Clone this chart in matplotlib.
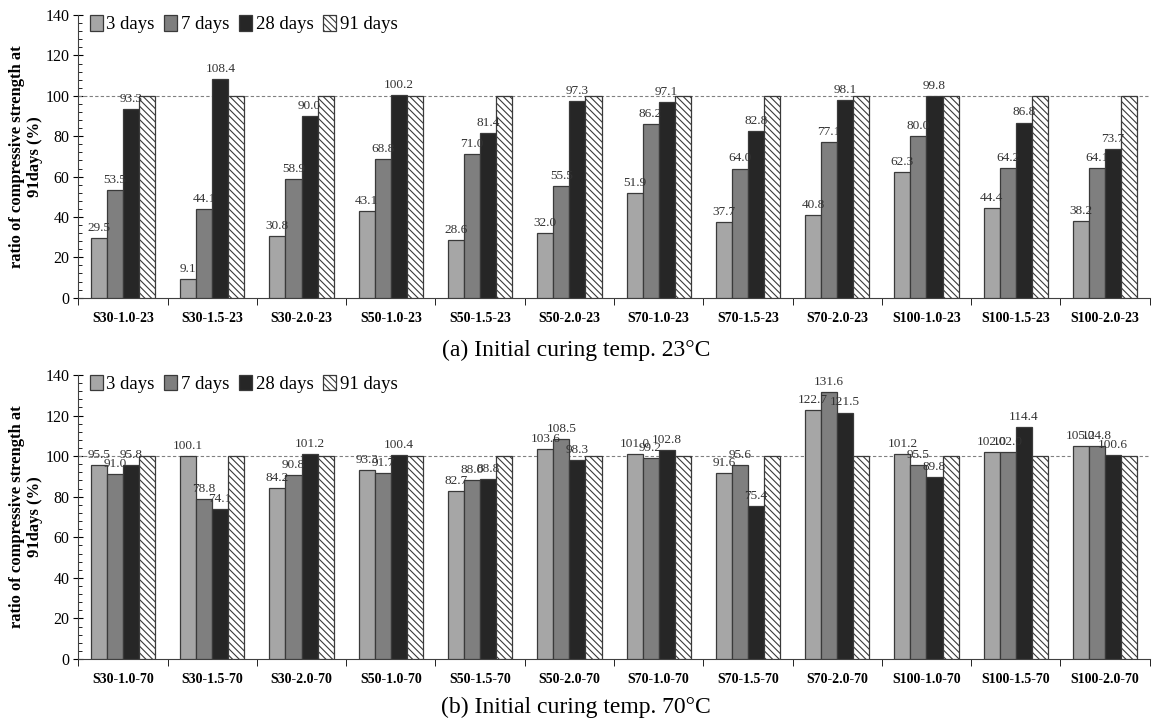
import matplotlib
matplotlib.use('Agg')
import matplotlib.pyplot as plt
from matplotlib.ticker import MultipleLocator, FixedLocator, NullFormatter
import numpy as np

plt.rcParams['font.family'] = ['Liberation Serif', 'DejaVu Serif']
plt.rcParams['hatch.color'] = '#303030'
plt.rcParams['hatch.linewidth'] = 0.8

series_names = ['3 days', '7 days', '28 days', '91 days']

cat23 = ['S30-1.0-23', 'S30-1.5-23', 'S30-2.0-23', 'S50-1.0-23', 'S50-1.5-23', 'S50-2.0-23',
         'S70-1.0-23', 'S70-1.5-23', 'S70-2.0-23', 'S100-1.0-23', 'S100-1.5-23', 'S100-2.0-23']
d3_23 = [29.5, 9.1, 30.8, 43.1, 28.6, 32.0, 51.9, 37.7, 40.8, 62.3, 44.4, 38.2]
d7_23 = [53.5, 44.1, 58.9, 68.8, 71.0, 55.5, 86.2, 64.0, 77.1, 80.0, 64.2, 64.1]
d28_23 = [93.3, 108.4, 90.0, 100.2, 81.4, 97.3, 97.1, 82.8, 98.1, 99.8, 86.8, 73.7]
d91_23 = [100.0] * 12

cat70 = ['S30-1.0-70', 'S30-1.5-70', 'S30-2.0-70', 'S50-1.0-70', 'S50-1.5-70', 'S50-2.0-70',
         'S70-1.0-70', 'S70-1.5-70', 'S70-2.0-70', 'S100-1.0-70', 'S100-1.5-70', 'S100-2.0-70']
d3_70 = [95.5, 100.1, 84.2, 93.3, 82.7, 103.6, 101.0, 91.6, 122.7, 101.2, 102.0, 105.2]
d7_70 = [91.0, 78.8, 90.8, 91.7, 88.0, 108.5, 99.2, 95.6, 131.6, 95.5, 102.0, 104.8]
d28_70 = [95.8, 74.1, 101.2, 100.4, 88.8, 98.3, 102.8, 75.4, 121.5, 89.8, 114.4, 100.6]
d91_70 = [100.0] * 12

colors = ['#a6a6a6', '#7f7f7f', '#262626', 'white']
hatches = [None, None, None, '\\\\\\\\\\']

fig = plt.figure(figsize=(11.52, 7.2), dpi=100)
ax1 = fig.add_axes([0.068, 0.5865, 0.93, 0.3925])
ax2 = fig.add_axes([0.068, 0.0847, 0.93, 0.3945])


def draw_panel(ax, cats, data):
    x = np.arange(len(cats))
    w = 0.18
    for i, vals in enumerate(data):
        pos = x + (i - 1.5) * w
        ax.bar(pos, vals, w, color=colors[i], edgecolor='#3a3a3a', linewidth=0.9,
               hatch=hatches[i], label=series_names[i], zorder=3)
        if i < 3:
            for p, v in zip(pos, vals):
                ax.text(p, v + 2, '%.1f' % v, ha='center', va='bottom',
                        fontsize=9.5, color='#333333', zorder=4)
    ax.axhline(100, color='#808080', ls=(0, (3, 2)), lw=0.8, zorder=2)
    ax.set_xlim(-0.5, len(cats) - 0.5)
    ax.set_ylim(0, 140)
    ax.yaxis.set_major_locator(MultipleLocator(20))
    ax.yaxis.set_minor_locator(MultipleLocator(4))
    ax.tick_params(axis='y', which='major', direction='inout', length=7, labelsize=11.5, pad=3)
    ax.tick_params(axis='y', which='minor', direction='in', length=3)
    ax.set_xticks(x)
    ax.set_xticklabels(cats, fontsize=10, fontweight='bold')
    ax.tick_params(axis='x', which='major', length=0, pad=10)
    ax.xaxis.set_minor_locator(FixedLocator(np.arange(len(cats) + 1) - 0.5))
    ax.xaxis.set_minor_formatter(NullFormatter())
    ax.tick_params(axis='x', which='minor', direction='out', length=5)
    for s in ['top', 'right']:
        ax.spines[s].set_visible(False)
    for s in ['left', 'bottom']:
        ax.spines[s].set_color('#404040')
    ax.set_ylabel('ratio of compressive strength at\n91days (%)', fontsize=12,
                  fontweight='bold')
    ax.yaxis.set_label_coords(-0.033, 0.5)
    ax.legend(loc='upper left', ncol=4, frameon=False, fontsize=13.5,
              handlelength=0.7, handleheight=0.9, handletextpad=0.2,
              columnspacing=0.5, bbox_to_anchor=(0.0, 1.04), borderaxespad=0.2)


draw_panel(ax1, cat23, [d3_23, d7_23, d28_23, d91_23])
draw_panel(ax2, cat70, [d3_70, d7_70, d28_70, d91_70])

fig.text(0.5, 0.514, '(a) Initial curing temp. 23°C', ha='center', va='center', fontsize=17)
fig.text(0.5, 0.017, '(b) Initial curing temp. 70°C', ha='center', va='center', fontsize=17)

fig.savefig('out.png', dpi=100)
